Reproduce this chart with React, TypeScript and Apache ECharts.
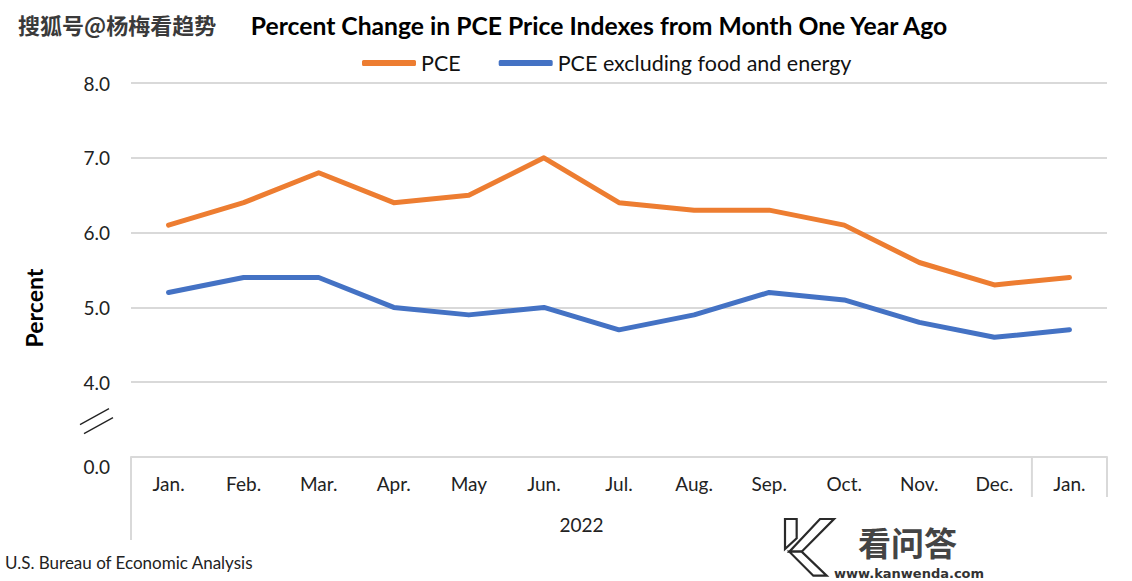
import React, { useEffect, useRef } from "react";
import * as echarts from "echarts";

const categories = ["Jan.", "Feb.", "Mar.", "Apr.", "May", "Jun.", "Jul.", "Aug.", "Sep.", "Oct.", "Nov.", "Dec.", "Jan."];
const pce = [6.1, 6.4, 6.8, 6.4, 6.5, 7.0, 6.4, 6.3, 6.3, 6.1, 5.6, 5.3, 5.4];
const core = [5.2, 5.4, 5.4, 5.0, 4.9, 5.0, 4.7, 4.9, 5.2, 5.1, 4.8, 4.6, 4.7];
const yearGroups = [{ label: "2022", from: 0, to: 11 }];
const titleText = "Percent Change in PCE Price Indexes from Month One Year Ago";
const seriesNames = ["PCE", "PCE excluding food and energy"];
const yAxisName = "Percent";
const sourceText = "U.S. Bureau of Economic Analysis";
const watermarkText = "搜狐号@杨梅看趋势";

const FONT = "Lato, 'Open Sans', sans-serif";
const GRID = { left: 131, right: 25, top: 83, bottom: 124 };

export default function App() {
  const ref = useRef<HTMLDivElement>(null);
  useEffect(() => {
    if (!ref.current) return;
    const chart = echarts.init(ref.current, undefined, { renderer: "svg" });
    const option: any = {
      animation: false,
      backgroundColor: "#ffffff",
      title: {
        text: titleText,
        left: 594,
        textAlign: "center",
        top: 8,
        textStyle: { fontFamily: FONT, fontSize: 24.7, fontWeight: "bold", color: "#000" },
      },
      legend: {
        top: 47,
        left: 357,
        itemWidth: 54,
        itemHeight: 6,
        itemGap: 38,
        icon: "roundRect",
        textStyle: { fontFamily: FONT, fontSize: 21.5, color: "#111" },
        data: seriesNames,
      },
      grid: { ...GRID },
      xAxis: {
        type: "category",
        data: categories,
        boundaryGap: true,
        axisLine: { show: true, lineStyle: { color: "#d9d9d9", width: 2 } },
        axisTick: { show: false },
        axisLabel: { interval: 0, margin: 17, fontFamily: FONT, fontSize: 19, color: "#222" },
      },
      yAxis: {
        type: "value",
        min: 3,
        max: 8,
        interval: 1,
        axisLine: { show: false },
        axisTick: { show: false },
        splitLine: { lineStyle: { color: "#d9d9d9", width: 2 } },
        axisLabel: {
          margin: 21,
          fontFamily: FONT,
          fontSize: 19,
          color: "#222",
          formatter: (v: number) => (v === 3 ? "{z|0.0}" : v.toFixed(1)),
          rich: { z: { fontFamily: FONT, fontSize: 19, color: "#222", padding: [18, 0, 0, 0] } },
        },
      },
      series: [
        {
          name: seriesNames[0],
          type: "line",
          data: pce,
          symbol: "none",
          color: "#ED7D31",
          lineStyle: { width: 5, color: "#ED7D31", cap: "round", join: "round" },
        },
        {
          name: seriesNames[1],
          type: "line",
          data: core,
          symbol: "none",
          color: "#4472C4",
          lineStyle: { width: 5, color: "#4472C4", cap: "round", join: "round" },
        },
      ],
    };
    chart.setOption(option);

    const c0 = chart.convertToPixel({ xAxisIndex: 0 }, 0) as number;
    const c1 = chart.convertToPixel({ xAxisIndex: 0 }, 1) as number;
    const band = c1 - c0;
    const yBase = chart.convertToPixel({ yAxisIndex: 0 }, 3) as number;
    const y4 = chart.convertToPixel({ yAxisIndex: 0 }, 4) as number;
    const lineStyle = { stroke: "#d9d9d9", lineWidth: 2 };
    const graphics: any[] = [];
    const leftX = c0 - band / 2;
    const rightX = (chart.convertToPixel({ xAxisIndex: 0 }, categories.length - 1) as number) + band / 2;
    graphics.push({ type: "line", shape: { x1: leftX, y1: yBase, x2: leftX, y2: yBase + 83 }, style: lineStyle, silent: true });
    graphics.push({ type: "line", shape: { x1: rightX, y1: yBase, x2: rightX, y2: yBase + 40 }, style: lineStyle, silent: true });
    yearGroups.forEach((g) => {
      const gx0 = (chart.convertToPixel({ xAxisIndex: 0 }, g.from) as number) - band / 2;
      const gx1 = (chart.convertToPixel({ xAxisIndex: 0 }, g.to) as number) + band / 2;
      graphics.push({ type: "line", shape: { x1: gx1, y1: yBase, x2: gx1, y2: yBase + 40 }, style: lineStyle, silent: true });
      graphics.push({
        type: "text",
        x: (gx0 + gx1) / 2,
        y: yBase + 67,
        style: { text: g.label, fontFamily: FONT, fontSize: 19, fill: "#222", align: "center", verticalAlign: "middle" },
        silent: true,
      });
    });
    // axis break marks
    const bm = (yBase + y4) / 2;
    graphics.push({ type: "line", shape: { x1: 80, y1: bm + 5, x2: 109, y2: bm - 11 }, style: { stroke: "#222", lineWidth: 1.2 }, silent: true });
    graphics.push({ type: "line", shape: { x1: 84, y1: bm + 14, x2: 113, y2: bm - 2 }, style: { stroke: "#222", lineWidth: 1.2 }, silent: true });
    // y axis name
    graphics.push({
      type: "text",
      x: 34,
      y: 308,
      rotation: Math.PI / 2,
      style: { text: yAxisName, fontFamily: FONT, fontSize: 23, fontWeight: "bold", fill: "#000", align: "center", verticalAlign: "middle" },
      silent: true,
    });
    // source
    graphics.push({
      type: "text",
      x: 5,
      y: 562,
      style: { text: sourceText, fontFamily: FONT, fontSize: 17, fill: "#222", verticalAlign: "middle" },
      silent: true,
    });
    // watermark top-left
    graphics.push({
      type: "text",
      x: 18,
      y: 24,
      style: {
        text: watermarkText,
        fontFamily: "'Noto Sans CJK SC', sans-serif",
        fontSize: 22,
        fontWeight: "bold",
        fill: "#3a3a3a",
        verticalAlign: "middle",
      },
      silent: true,
    });
    // kanwenda logo (bottom-right)
    const ox = 770, oy = 505, s = 1 / 3;
    const P = (pts: number[][]) => pts.map(([a, b]) => [ox + a * s, oy + b * s]);
    const logoStyle = { fill: "#ffffff", stroke: "#2a2a2a", lineWidth: 2.2 };
    graphics.push({ type: "polygon", shape: { points: P([[45, 42], [80, 42], [80, 100], [45, 132]]) }, style: logoStyle, silent: true });
    graphics.push({ type: "polygon", shape: { points: P([[150, 42], [192, 42], [95, 140], [58, 140]]) }, style: logoStyle, silent: true });
    graphics.push({ type: "polygon", shape: { points: P([[58, 140], [95, 140], [170, 212], [130, 212]]) }, style: logoStyle, silent: true });
    graphics.push({
      type: "text",
      x: 858,
      y: 542,
      style: { text: "看问答", fontFamily: "'Noto Sans CJK SC', sans-serif", fontSize: 33, fontWeight: "bold", fill: "#444", verticalAlign: "middle" },
      silent: true,
    });
    graphics.push({
      type: "text",
      x: 834,
      y: 573,
      style: { text: "www.kanwenda.com", fontFamily: "'DejaVu Sans', sans-serif", fontSize: 13, fontWeight: "bold", fill: "#333", verticalAlign: "middle" },
      silent: true,
    });
    chart.setOption({ graphic: graphics });

    return () => chart.dispose();
  }, []);
  return <div ref={ref} style={{ width: 1132, height: 581, position: "absolute", left: 0, top: 0 }} />;
}
